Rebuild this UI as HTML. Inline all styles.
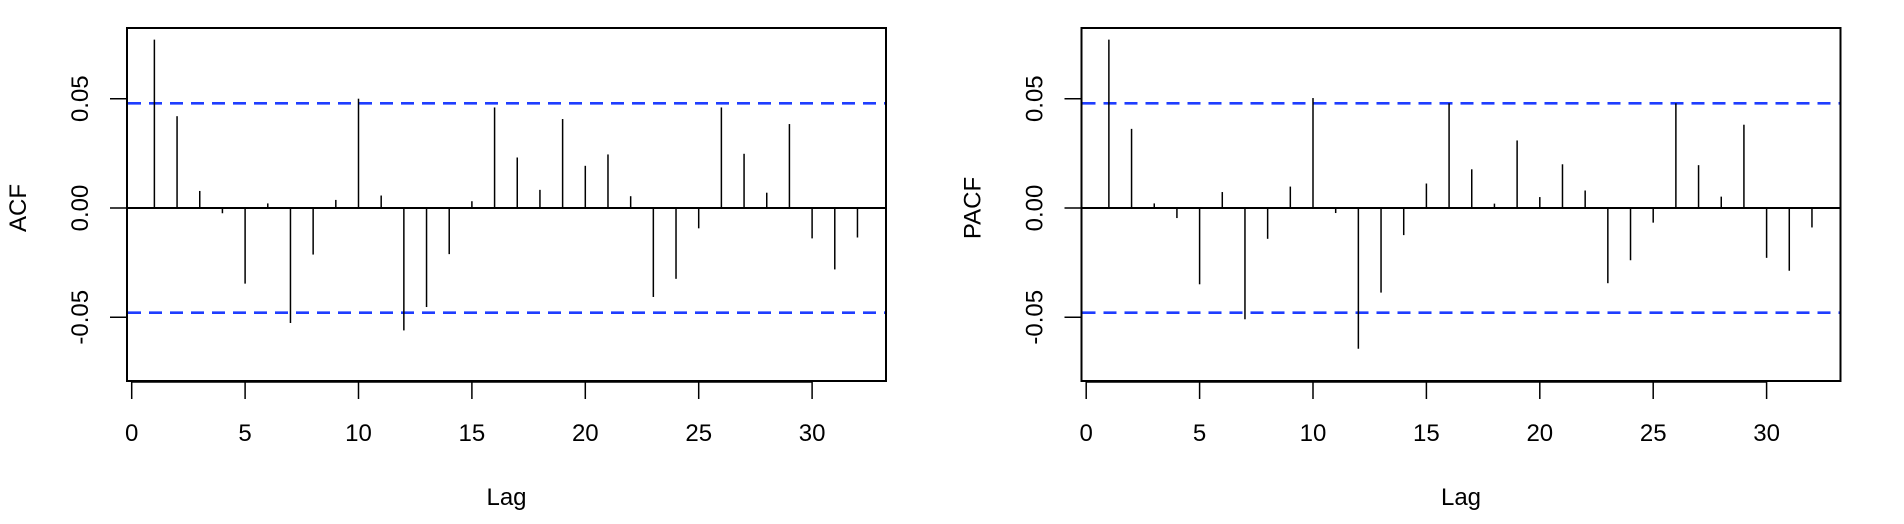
<!DOCTYPE html>
<html><head><meta charset="utf-8"><style>
html,body{margin:0;padding:0;background:#fff;}
svg{display:block;font-family:"Liberation Sans",sans-serif;}
</style></head><body>
<svg id="c" width="1904" height="524" viewBox="0 0 1904 524"></svg>
<script>
const lags = [1,2,3,4,5,6,7,8,9,10,11,12,13,14,15,16,17,18,19,20,21,22,23,24,25,26,27,28,29,30,31,32];
const acfVals = [0.077,0.042,0.0078,-0.0024,-0.0346,0.0021,-0.0526,-0.0213,0.0037,0.050,0.0057,-0.056,-0.0453,-0.0211,0.0031,0.046,0.0231,0.0083,0.0407,0.0193,0.0245,0.0054,-0.0407,-0.0324,-0.0093,0.046,0.0248,0.007,0.0384,-0.0139,-0.0281,-0.0135];
const pacfVals = [0.077,0.0362,0.0021,-0.0046,-0.0349,0.0073,-0.0509,-0.0141,0.0098,0.0503,-0.0023,-0.0644,-0.0387,-0.0124,0.0112,0.0479,0.0177,0.002,0.0309,0.005,0.020,0.008,-0.0344,-0.0239,-0.0067,0.0479,0.0196,0.0052,0.0381,-0.0228,-0.0287,-0.0089];
const xTicks = [0,5,10,15,20,25,30];
const yTicks = [-0.05,0,0.05];
const yTickLabels = ["-0.05","0.00","0.05"];
const ciBound = 0.0479;

const svg = document.getElementById('c');
const NS = 'http://www.w3.org/2000/svg';
function mk(tag, attrs, parent){
  const e = document.createElementNS(NS, tag);
  for (const k in attrs) e.setAttribute(k, attrs[k]);
  (parent||svg).appendChild(e);
  return e;
}

function panel(name, ox, label, vals){
  const g = mk('g', {});
  
  
  const boxL = ox + 127, boxR = ox + 886, boxT = 28, boxB = 381;
  const x = v => ox + 131.7 + v * 22.68;
  const y = v => 208 - v * 2186;
  // box
  const box = mk('rect', {x:boxL, y:boxT, width:boxR-boxL, height:boxB-boxT, fill:'none', stroke:'#000', 'stroke-width':2}, g);
  
  
  // zero line
  const z = mk('line', {x1:boxL, x2:boxR, y1:y(0), y2:y(0), stroke:'#000', 'stroke-width':2}, g);
  
  
  // confidence lines
  [ciBound, -ciBound].forEach((b, i) => {
    const l = mk('line', {x1:boxL+1, x2:boxR-1, y1:y(b), y2:y(b), stroke:'#1f3dff', 'stroke-width':2.6, 'stroke-dasharray':'13 8'}, g);
    
    
  });
  // stems
  lags.forEach((lag, i) => {
    const s = mk('line', {x1:x(lag), x2:x(lag), y1:y(0), y2:y(vals[i]), stroke:'#000', 'stroke-width':1.5}, g);
    
    
  });
  // x axis
  const xa = mk('line', {x1:x(xTicks[0]), x2:x(xTicks[xTicks.length-1]), y1:382, y2:382, stroke:'#000', 'stroke-width':1.5}, g);
  
  
  xTicks.forEach(t => {
    mk('line', {x1:x(t), x2:x(t), y1:382, y2:399, stroke:'#000', 'stroke-width':1.5}, g);
    const tx = mk('text', {x:x(t), y:441, 'font-size':24, 'text-anchor':'middle', fill:'#000'}, g);
    tx.textContent = t;
    
    
  });
  // y ticks
  yTicks.forEach((t, i) => {
    mk('line', {x1:boxL-17, x2:boxL, y1:y(t), y2:y(t), stroke:'#000', 'stroke-width':1.5}, g);
    const tx = mk('text', {x:0, y:0, 'font-size':24, 'text-anchor':'middle', fill:'#000', transform:'translate(' + (ox + 88) + ',' + y(t) + ') rotate(-90)'}, g);
    tx.textContent = yTickLabels[i];
    
    
  });
  // axis titles
  const xt = mk('text', {x:(boxL+boxR)/2, y:505, 'font-size':24, 'text-anchor':'middle', fill:'#000'}, g);
  xt.textContent = 'Lag';
  
  
  const yt = mk('text', {x:0, y:0, 'font-size':24, 'text-anchor':'middle', fill:'#000', transform:'translate(' + (ox + 26) + ',' + y(0) + ') rotate(-90)'}, g);
  yt.textContent = label;
  
  
}
panel('acf', 0, 'ACF', acfVals);
panel('pacf', 954.5, 'PACF', pacfVals);
</script>
</body></html>
